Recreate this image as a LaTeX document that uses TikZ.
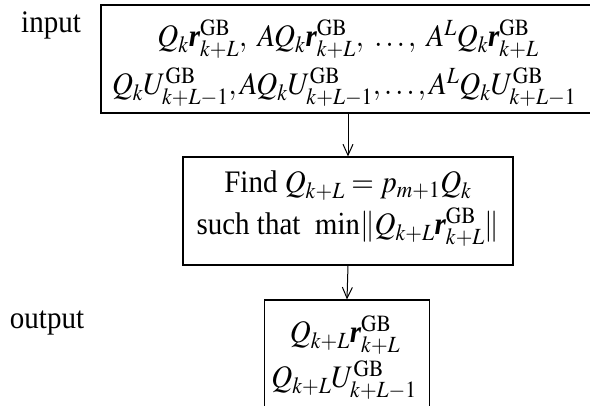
\documentclass[tikz,border=0pt]{standalone}
\usepackage[no-math]{fontspec}
\usepackage{mathptmx}
\usepackage{graphicx}
\setmainfont{Liberation Serif}
\usetikzlibrary{arrows.meta}
\newcommand{\GB}{\mathrm{GB}}
\newcommand{\vr}{\mbox{\bfseries\itshape r}}
\newcommand{\tall}[1]{\scalebox{1}[1.08]{#1}}
\begin{document}
\begin{tikzpicture}[x=1pt,y=1pt,
  box/.style={draw, line width=1.1pt, inner sep=0pt},
  txt/.style={anchor=base, inner sep=0pt, font=\fontsize{29}{34}\selectfont},
  conn/.style={-{Straight Barb[length=11pt,width=10pt,line width=1pt]}, line width=1pt}]
\useasboundingbox (0,0) rectangle (590,405);
\clip (0,0) rectangle (590,405);
\node[box, minimum width=494pt, minimum height=108pt] (b1) at (348,346) {};
\node[box, minimum width=330pt, minimum height=108pt] (b2) at (348,194) {};
\node[box, minimum width=165pt, minimum height=125pt] (b3) at (347,42.5) {};
\node[txt] (inlbl) at (51,372) {\tall{input}};
\node[txt] (outlbl) at (47,77) {\tall{output}};
\node[txt] (r1a) at (348,358) {\tall{$Q_k\vr^{\GB}_{k+L},\ AQ_k\vr^{\GB}_{k+L},\ \ldots,\ A^LQ_k\vr^{\GB}_{k+L}$}};
\node[txt] (r1b) at (344,310) {\tall{$Q_kU^{\GB}_{k+L-1},AQ_kU^{\GB}_{k+L-1},\ldots,A^LQ_kU^{\GB}_{k+L-1}$}};
\node[txt] (r2a) at (348,212) {\tall{Find $Q_{k+L} = p_{m+1}Q_k$}};
\node[txt] (r2b) at (348,170) {\tall{such that\ \ $\mathrm{min}\|Q_{k+L}\vr^{\GB}_{k+L}\|$}};
\node[txt] (r3a) at (345,62) {\tall{$Q_{k+L}\vr^{\GB}_{k+L}$}};
\node[txt] (r3b) at (344,17) {\tall{$Q_{k+L}U^{\GB}_{k+L-1}$}};
\draw[conn] (b1.south) -- (b2.north);
\draw[conn] (b2.south) -- (b3.north);
\end{tikzpicture}
\end{document}
